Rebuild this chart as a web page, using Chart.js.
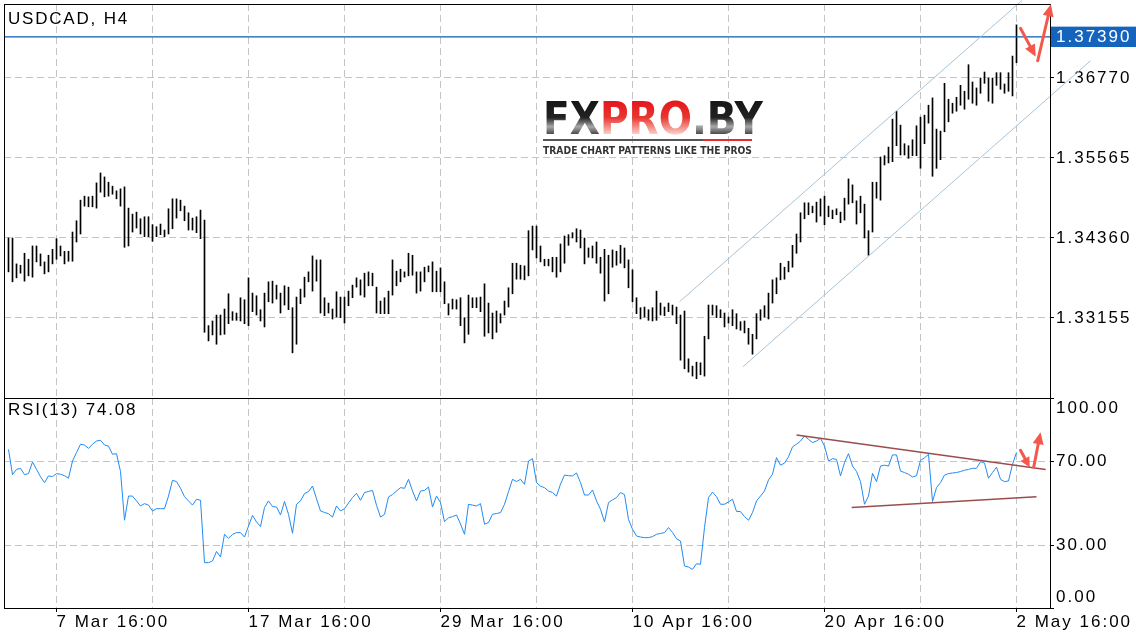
<!DOCTYPE html>
<html><head><meta charset="utf-8">
<script src="https://cdn.jsdelivr.net/npm/chart.js@4.4.1/dist/chart.umd.min.js"></script>
<style>
html,body{margin:0;padding:0;background:#fff;}
#wrap{position:relative;width:1136px;height:640px;overflow:hidden;background:#fff;}
#c1{position:absolute;left:0;top:0;}
#c2{position:absolute;left:0;top:398px;}
</style></head><body>
<div id="wrap"><canvas id="c1" width="1136" height="400"></canvas><canvas id="c2" width="1136" height="242"></canvas></div>
<script>
// ---------- DATA ----------
const symbolTitle = 'USDCAD, H4';
const rsiPeriod = 13;
const barHigh = [
1.3436,1.3436,1.3397,1.3395,1.3413,1.3404,1.3424,1.3424,1.3412,1.3400,
1.3410,1.3419,1.3435,1.3424,1.3416,1.3416,1.3445,1.3462,1.3493,1.3499,
1.3498,1.3499,1.3519,1.3534,1.3528,1.3520,1.3514,1.3507,1.3510,1.3513,
1.3481,1.3472,1.3475,1.3465,1.3468,1.3468,1.3456,1.3453,1.3457,1.3448,
1.3480,1.3495,1.3495,1.3493,1.3484,1.3474,1.3466,1.3468,1.3478,1.3463,
1.3304,1.3311,1.3320,1.3320,1.3329,1.3352,1.3325,1.3323,1.3346,1.3343,
1.3376,1.3353,1.3349,1.3328,1.3353,1.3370,1.3371,1.3365,1.3353,1.3364,
1.3362,1.3331,1.3347,1.3359,1.3377,1.3385,1.3409,1.3403,1.3403,1.3346,
1.3338,1.3329,1.3355,1.3347,1.3347,1.3356,1.3365,1.3376,1.3373,1.3383,
1.3385,1.3383,1.3362,1.3341,1.3346,1.3356,1.3403,1.3386,1.3389,1.3385,
1.3413,1.3410,1.3385,1.3385,1.3392,1.3394,1.3400,1.3386,1.3391,1.3370,
1.3337,1.3344,1.3343,1.3346,1.3316,1.3350,1.3346,1.3346,1.3347,1.3367,
1.3338,1.3323,1.3326,1.3322,1.3341,1.3361,1.3398,1.3398,1.3395,1.3394,
1.3447,1.3454,1.3454,1.3424,1.3404,1.3404,1.3407,1.3407,1.3427,1.3439,
1.3441,1.3444,1.3450,1.3448,1.3436,1.3421,1.3424,1.3430,1.3407,1.3419,
1.3410,1.3418,1.3416,1.3425,1.3421,1.3403,1.3388,1.3346,1.3331,1.3332,
1.3328,1.3331,1.3356,1.3338,1.3332,1.3338,1.3335,1.3332,1.3320,1.3326,
1.3254,1.3243,1.3249,1.3248,1.3288,1.3335,1.3335,1.3334,1.3328,1.3323,
1.3317,1.3328,1.3322,1.3310,1.3311,1.3300,1.3291,1.3322,1.3328,1.3334,
1.3353,1.3373,1.3376,1.3398,1.3392,1.3401,1.3425,1.3442,1.3474,1.3489,
1.3489,1.3484,1.3490,1.3495,1.3499,1.3484,1.3478,1.3480,1.3475,1.3496,
1.3525,1.3516,1.3492,1.3499,1.3487,1.3447,1.3520,1.3520,1.3558,1.3560,
1.3573,1.3615,1.3627,1.3606,1.3578,1.3575,1.3584,1.3605,1.3618,1.3621,
1.3636,1.3647,1.3600,1.3597,1.3669,1.3645,1.3639,1.3648,1.3666,1.3657,
1.3697,1.3671,1.3662,1.3677,1.3686,1.3677,1.3677,1.3685,1.3685,1.3668,
1.3685,1.3710,1.3757];
const barLow = [
1.3385,1.3370,1.3376,1.3383,1.3371,1.3379,1.3377,1.3400,1.3394,1.3382,
1.3385,1.3397,1.3404,1.3409,1.3397,1.3401,1.3401,1.3430,1.3442,1.3484,
1.3483,1.3483,1.3481,1.3505,1.3498,1.3499,1.3502,1.3495,1.3484,1.3422,
1.3424,1.3445,1.3451,1.3442,1.3438,1.3438,1.3431,1.3438,1.3441,1.3438,
1.3442,1.3450,1.3466,1.3477,1.3462,1.3448,1.3448,1.3444,1.3435,1.3294,
1.3281,1.3290,1.3276,1.3290,1.3291,1.3307,1.3312,1.3312,1.3311,1.3307,
1.3304,1.3325,1.3320,1.3311,1.3302,1.3340,1.3338,1.3344,1.3323,1.3335,
1.3328,1.3263,1.3276,1.3337,1.3347,1.3370,1.3356,1.3371,1.3323,1.3319,
1.3323,1.3314,1.3317,1.3316,1.3308,1.3334,1.3346,1.3362,1.3350,1.3347,
1.3364,1.3364,1.3323,1.3322,1.3322,1.3322,1.3350,1.3364,1.3370,1.3377,
1.3379,1.3380,1.3353,1.3356,1.3370,1.3385,1.3355,1.3355,1.3355,1.3337,
1.3320,1.3329,1.3329,1.3304,1.3278,1.3291,1.3331,1.3331,1.3325,1.3288,
1.3293,1.3284,1.3294,1.3308,1.3320,1.3332,1.3352,1.3374,1.3374,1.3373,
1.3379,1.3418,1.3406,1.3400,1.3394,1.3394,1.3385,1.3377,1.3385,1.3398,
1.3425,1.3436,1.3430,1.3421,1.3397,1.3407,1.3406,1.3398,1.3383,1.3341,
1.3352,1.3392,1.3395,1.3398,1.3391,1.3361,1.3340,1.3322,1.3314,1.3317,
1.3312,1.3311,1.3312,1.3320,1.3319,1.3325,1.3320,1.3307,1.3252,1.3239,
1.3234,1.3228,1.3224,1.3230,1.3228,1.3284,1.3320,1.3316,1.3316,1.3302,
1.3308,1.3304,1.3299,1.3297,1.3293,1.3276,1.3261,1.3284,1.3312,1.3317,
1.3314,1.3338,1.3352,1.3373,1.3374,1.3385,1.3392,1.3413,1.3430,1.3465,
1.3471,1.3474,1.3460,1.3469,1.3456,1.3468,1.3465,1.3471,1.3459,1.3463,
1.3487,1.3489,1.3457,1.3474,1.3436,1.3410,1.3445,1.3496,1.3493,1.3546,
1.3549,1.3551,1.3575,1.3561,1.3561,1.3556,1.3560,1.3560,1.3541,1.3578,
1.3609,1.3529,1.3541,1.3554,1.3596,1.3611,1.3624,1.3627,1.3636,1.3630,
1.3645,1.3639,1.3636,1.3654,1.3669,1.3642,1.3639,1.3666,1.3660,1.3654,
1.3657,1.3650,1.3700];
const rsiValues = [
75.5,63.5,66,66.5,63.5,64,69.5,66,62.5,59.7,
62.9,62.6,64,63.7,63,61.8,70,74,78,77.6,
76,78,79.5,79.9,77.6,77.1,73.2,73.5,65,41.8,
53.3,53.3,51,48.6,49.7,49,46.2,47.3,47.3,47.3,
53.3,60.8,60.2,57,53,51,49,51.8,51.3,21.6,
21.6,22.4,26.9,24.3,35.1,33.2,35,35.9,35.9,33.8,
39,44.1,41,38.8,47.8,51,48.3,48.1,44.3,50.7,
44.6,35.6,49.4,51,54.5,55.4,58.1,52,46.2,45.5,
44.9,43.3,48.6,46.2,47.3,50,52.6,54.6,51.3,55,
55.5,56,48.9,43.3,44.6,52.9,54,55.7,57.3,57,
61.3,55.7,51,55.7,56,57.6,48.1,53.3,50.2,41.1,
43,43.5,44.3,40,35.1,49.4,49,48.6,49.7,39.9,
40.7,44.6,45,45.4,49.4,55.4,61.3,60.2,61.3,58.9,
70,71.1,59.7,58,57.3,55.7,55,53.3,59,63.3,
63,62.9,64.3,59.7,53.8,53.8,56.2,51,47,41,
50.2,51.5,52.6,55,54,42.2,37.5,34.3,33.8,33.5,
33.5,34,35.1,35.5,35.9,38.3,36,33,31.9,20,
19.5,18.4,21.1,20.8,38.3,52.6,55.2,53,49.4,49.4,
50.5,51.8,46,45.9,43.5,41.8,45.4,51,53.3,55.7,
61,63.7,71.6,68,69,72,76.7,78,79.5,81.9,
80.3,78.8,79.5,80.8,77.1,70,71.1,70.8,62.9,69.2,
73.5,67.6,65,60.2,49.4,53.3,64.1,60.2,67.6,68,
67.6,72.9,72.9,65.2,64.5,63.7,62.4,63,70.3,71.5,
73.2,50.7,57.3,59.7,63.3,64,64.3,64.5,65,65.6,
66,66.5,66.5,69.7,69,61.8,64.5,67.1,61.3,60.2,
60.5,68.4,74.08];

const priceTicks = [1.36770, 1.35565, 1.34360, 1.33155];
const currentPrice = 1.37390;
const rsiTicks = [100, 70, 30, 0];
const gridBars = [12, 36, 60, 84, 108, 132, 156, 180, 204, 228, 252];
const timeTickBars = [12, 60, 108, 156, 204, 252];
const timeTickLabels = ['7 Mar 16:00', '17 Mar 16:00', '29 Mar 16:00', '10 Apr 16:00', '20 Apr 16:00', '2 May 16:00'];

// drawn annotations (data coordinates: bar index, price / RSI)
const channelUpperX = [167.75, 253.4];
const channelUpperY = [1.3340, 1.3794];
const channelLowerX = [183.6, 270.5];
const channelLowerY = [1.3242, 1.3703];
const rsiUpperX = [197, 259.3];
const rsiUpperY = [82.4, 65.9];
const rsiLowerX = [210.8, 257];
const rsiLowerY = [47.8, 53];
const priceArrowDownX = [253.0, 256.8];
const priceArrowDownY = [1.3752, 1.3709];
const priceArrowUpX = [257.3, 260.6];
const priceArrowUpY = [1.3703, 1.3788];
const rsiArrowDownX = [253.0, 255.3];
const rsiArrowDownY = [75.1, 67.0];
const rsiArrowUpX = [256.3, 258.0];
const rsiArrowUpY = [67.0, 83.7];

// ---------- SETUP ----------
const X_MIN = -1.125, X_MAX = 260.375;
const P_MIN = 1.3195, P_MAX = 1.378846;
const FONT = "'Liberation Sans', 'Helvetica Neue', Arial, sans-serif";
const GRID = '#c4c4c4';
const DASH = [7, 4];
const ARROW = '#f4584b';
const TEXT = '#000';
Chart.defaults.font.family = FONT;
Chart.defaults.font.size = 17;
Chart.defaults.color = TEXT;

const pts = (xs, ys) => xs.map((x, i) => ({x, y: ys[i]}));
const noPad = s => { s.paddingTop = 0; s.paddingBottom = 0; s.paddingLeft = 0; s.paddingRight = 0; };

function drawArrow(ctx, x1, y1, x2, y2, width, headLen, headW) {
  const a = Math.atan2(y2 - y1, x2 - x1);
  const bx = x2 - headLen * Math.cos(a), by = y2 - headLen * Math.sin(a);
  ctx.save();
  ctx.strokeStyle = ARROW; ctx.fillStyle = ARROW; ctx.lineWidth = width; ctx.lineCap = 'round';
  ctx.beginPath(); ctx.moveTo(x1, y1); ctx.lineTo(bx, by); ctx.stroke();
  ctx.beginPath(); ctx.moveTo(x2, y2);
  ctx.lineTo(bx + headW / 2 * Math.sin(a), by - headW / 2 * Math.cos(a));
  ctx.lineTo(bx - headW / 2 * Math.sin(a), by + headW / 2 * Math.cos(a));
  ctx.closePath(); ctx.fill();
  ctx.restore();
}
function arrowFrom(chart, xs, ys, yId, w, hl, hw) {
  const sx = chart.scales.x, sy = chart.scales[yId];
  drawArrow(chart.ctx, sx.getPixelForValue(xs[0]), sy.getPixelForValue(ys[0]),
    sx.getPixelForValue(xs[1]), sy.getPixelForValue(ys[1]), w, hl, hw);
}
function frame(chart) {
  const {left, top, right, bottom} = chart.chartArea;
  const ctx = chart.ctx;
  ctx.save(); ctx.strokeStyle = '#000'; ctx.lineWidth = 1;
  ctx.strokeRect(Math.round(left) + 0.5, Math.round(top) + 0.5, Math.round(right - left), Math.round(bottom - top));
  ctx.restore();
}
function drawText(ctx, txt, x, y, font, color, spacing) {
  ctx.save(); ctx.letterSpacing = spacing; ctx.font = font; ctx.fillStyle = color;
  ctx.textBaseline = 'middle'; ctx.textAlign = 'left'; ctx.fillText(txt, x, y); ctx.restore();
}
function drawLogo(ctx) {
  ctx.save();
  ctx.letterSpacing = '0px';
  ctx.font = "bold 45px 'DejaVu Sans'";
  const parts = [['FX', 0], ['PRO', 1], ['.BY', 0]];
  const full = ctx.measureText('FXPRO.BY').width;
  const x0 = 543, base = 134, W = 219;
  ctx.translate(x0, base); ctx.scale(W / full, 1);
  let cx = 0;
  for (const [t, red] of parts) {
    const g = ctx.createLinearGradient(0, -33, 0, 0);
    if (!red) { g.addColorStop(0, '#161616'); g.addColorStop(0.5, '#222'); g.addColorStop(0.78, '#a8a8a8'); g.addColorStop(1, '#4a4a4a'); }
    else { g.addColorStop(0, '#e3161c'); g.addColorStop(0.5, '#ea3630'); g.addColorStop(1, '#f8cfc6'); }
    ctx.fillStyle = g; ctx.fillText(t, cx, 0); cx += ctx.measureText(t).width;
  }
  ctx.restore();
  ctx.save();
  ctx.fillStyle = '#555'; ctx.fillRect(543, 139, 160, 2);
  ctx.fillStyle = '#e8282a'; ctx.fillRect(703, 139, 49, 2);
  ctx.font = "bold 10px 'DejaVu Sans'";
  ctx.letterSpacing = '0px';
  const tag = 'TRADE CHART PATTERNS LIKE THE PROS';
  const tw = ctx.measureText(tag).width;
  ctx.translate(543, 154); ctx.scale(209 / tw, 1);
  ctx.fillStyle = '#333'; ctx.textBaseline = 'alphabetic'; ctx.fillText(tag, 0, 0);
  ctx.restore();
}

const spacingPlugin = { id: 'spacing', beforeDraw(chart) { chart.ctx.letterSpacing = '2px'; } };

// ---------- PRICE CHART ----------
new Chart(document.getElementById('c1'), {
  type: 'bar',
  data: {
    datasets: [
      { type: 'bar', data: barHigh.map((h, i) => ({x: i, y: [barLow[i], h]})), backgroundColor: '#000',
        barThickness: 1, borderWidth: 0, grouped: false, order: 3 },
      { type: 'line', data: pts([X_MIN, X_MAX], [currentPrice, currentPrice]), borderColor: '#0a5cb8',
        borderWidth: 1.2, pointRadius: 0, order: 2 },
      { type: 'line', data: pts(channelUpperX, channelUpperY), borderColor: '#a8c3d7', borderWidth: 1,
        pointRadius: 0, clip: false, order: 1 },
      { type: 'line', data: pts(channelLowerX, channelLowerY), borderColor: '#a8c3d7', borderWidth: 1,
        pointRadius: 0, clip: false, order: 1 }
    ]
  },
  options: {
    responsive: false, animation: false, devicePixelRatio: 1,
    layout: { padding: { top: 4, left: 4, right: 0, bottom: 0 } },
    plugins: { legend: { display: false }, tooltip: { enabled: false } },
    scales: {
      x: { type: 'linear', min: X_MIN, max: X_MAX, offset: false,
        afterBuildTicks: s => { s.ticks = gridBars.map(v => ({value: v})); },
        ticks: { display: false },
        grid: { color: GRID, drawTicks: false, offset: false },
        border: { display: false, dash: DASH },
        afterFit: s => { s.height = 2; noPad(s); } },
      y: { type: 'linear', position: 'right', min: P_MIN, max: P_MAX,
        afterBuildTicks: s => { s.ticks = priceTicks.concat([currentPrice]).map(v => ({value: v})); },
        ticks: { callback: v => v.toFixed(5), padding: 2,
          color: c => (c.tick && c.tick.value === currentPrice) ? '#ffffff' : TEXT,
          showLabelBackdrop: c => !!(c.tick && c.tick.value === currentPrice),
          backdropColor: '#1464bd', backdropPadding: { top: 0, bottom: 0, left: 6, right: 40 } },
        grid: { color: c => (c.tick && c.tick.value === currentPrice) ? 'rgba(0,0,0,0)' : GRID,
          tickLength: 4, tickColor: '#000', tickBorderDash: [] },
        border: { display: false, dash: DASH },
        afterFit: s => { s.width = 86; noPad(s); } }
    }
  },
  plugins: [spacingPlugin, {
    id: 'deco1',
    beforeDatasetsDraw(chart) { drawLogo(chart.ctx); },
    afterDraw(chart) {
      frame(chart);
      drawText(chart.ctx, symbolTitle, 8, 19.5, "17px " + FONT, TEXT, '1.8px');
      arrowFrom(chart, priceArrowDownX, priceArrowDownY, 'y', 3, 12, 11);
      arrowFrom(chart, priceArrowUpX, priceArrowUpY, 'y', 3, 12, 11);
    }
  }]
});

// ---------- RSI CHART ----------
new Chart(document.getElementById('c2'), {
  type: 'line',
  data: {
    datasets: [
      { data: rsiValues.map((v, i) => ({x: i, y: v})), borderColor: '#1f8bf5', borderWidth: 1,
        pointRadius: 0, tension: 0, order: 2 },
      { data: pts(rsiUpperX, rsiUpperY), borderColor: '#9b4d4d', borderWidth: 1.5, pointRadius: 0, clip: false, order: 1 },
      { data: pts(rsiLowerX, rsiLowerY), borderColor: '#9b4d4d', borderWidth: 1.5, pointRadius: 0, clip: false, order: 1 }
    ]
  },
  options: {
    responsive: false, animation: false, devicePixelRatio: 1,
    layout: { padding: { top: 0, left: 4, right: 0, bottom: 0 } },
    plugins: { legend: { display: false }, tooltip: { enabled: false } },
    scales: {
      x: { type: 'linear', min: X_MIN, max: X_MAX, offset: false,
        afterBuildTicks: s => { s.ticks = gridBars.map(v => ({value: v})); },
        ticks: { autoSkip: false, maxRotation: 0, minRotation: 0, align: 'start', padding: 0,
          callback: v => { const k = timeTickBars.indexOf(v); return k >= 0 ? timeTickLabels[k] : ''; } },
        grid: { color: GRID, tickLength: 4, tickBorderDash: [],
          tickColor: c => (c.tick && timeTickBars.indexOf(c.tick.value) >= 0) ? '#000' : 'rgba(0,0,0,0)' },
        border: { display: false, dash: DASH },
        afterFit: s => { s.height = 32; noPad(s); } },
      y: { type: 'linear', position: 'right', min: 0, max: 100,
        afterBuildTicks: s => { s.ticks = rsiTicks.map(v => ({value: v})); },
        ticks: { padding: 2,
          callback: v => v === 100 ? ['', v.toFixed(2)] : (v === 0 ? [v.toFixed(2), ''] : v.toFixed(2)) },
        grid: { color: c => (c.tick && (c.tick.value === 70 || c.tick.value === 30)) ? GRID : 'rgba(0,0,0,0)',
          tickLength: 4, tickColor: '#000', tickBorderDash: [] },
        border: { display: false, dash: DASH },
        afterFit: s => { s.width = 86; noPad(s); } }
    }
  },
  plugins: [spacingPlugin, {
    id: 'deco2',
    afterDraw(chart) {
      frame(chart);
      drawText(chart.ctx, 'RSI(' + rsiPeriod + ') ' + rsiValues[rsiValues.length - 1].toFixed(2), 8, 12, "17px " + FONT, TEXT, '1.8px');
      arrowFrom(chart, rsiArrowDownX, rsiArrowDownY, 'y', 3, 10, 10);
      arrowFrom(chart, rsiArrowUpX, rsiArrowUpY, 'y', 3, 12, 11);
    }
  }]
});
</script>
</body></html>
